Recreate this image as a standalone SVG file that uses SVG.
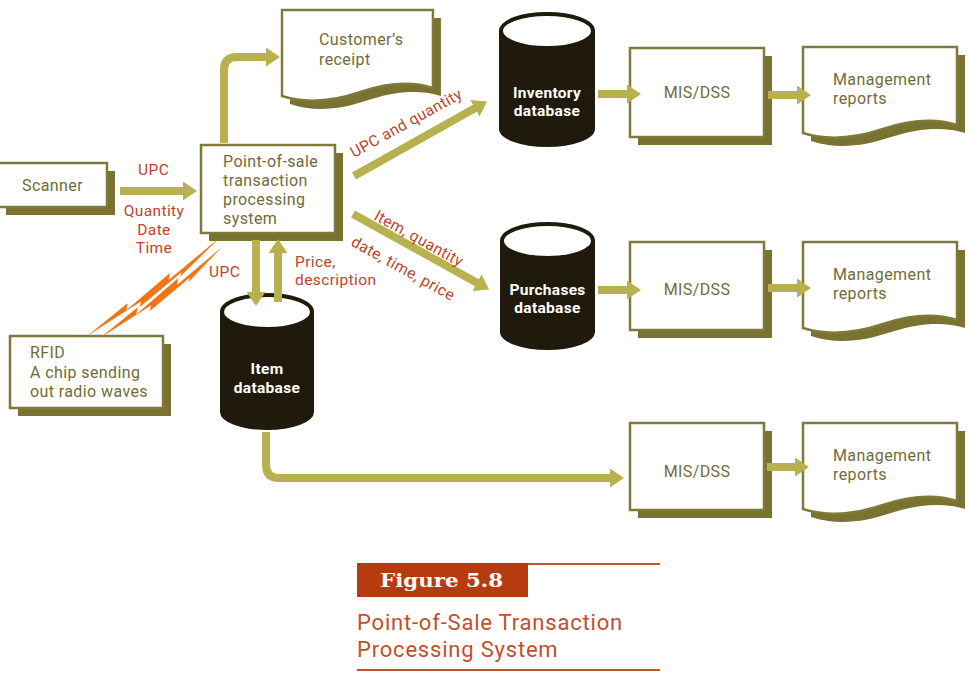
<svg xmlns="http://www.w3.org/2000/svg" width="973" height="676" viewBox="0 0 973 676">
<defs>
<style>
.box{fill:#fff;stroke:#7f7a39;stroke-width:2.5}
.shadow{fill:#7a7230}
.txt{font-family:Roboto,"Liberation Sans",sans-serif;font-size:16px;letter-spacing:0.4px;fill:#716c37}
.red{font-family:Roboto,"Liberation Sans",sans-serif;font-size:15.5px;letter-spacing:0.4px;fill:#c0432b}
.dbbody{fill:#1f1a0b}
.dbcap{fill:#fff;stroke:#1f1a0b;stroke-width:4}
.dbtxt{font-family:Roboto,"Liberation Sans",sans-serif;font-size:15.5px;letter-spacing:0.3px;font-weight:bold;fill:#fff;text-anchor:middle}
.arr{fill:none;stroke:#b7b24f;stroke-width:8;marker-end:url(#head)}
.bolt{fill:#f07515}
.cap{font-family:Roboto,"Liberation Sans",sans-serif;font-size:22px;letter-spacing:0.8px;fill:#c0502d}
</style>
<marker id="head" viewBox="0 0 14 19" markerWidth="14" markerHeight="19" refX="1" refY="9.5" orient="auto" markerUnits="userSpaceOnUse">
<path d="M0,0 L14,9.5 L0,19 Z" fill="#b7b24f"/>
</marker>
<path id="doc" d="M0,0 H154 V78 C135,72 110,72 80,82 C50,92 25,94 0,86 Z"/>
</defs>
<rect width="973" height="676" fill="#fff"/>

<g id="scanner">
<rect class="shadow" x="6" y="171" width="109" height="44"/>
<rect class="box" x="-2" y="163" width="109" height="44"/>
<text class="txt" x="22" y="191">Scanner</text>
</g>

<g id="pos">
<rect class="shadow" x="209" y="153" width="134" height="88"/>
<rect class="box" x="201" y="145" width="134" height="88"/>
<text class="txt" x="223" y="167">Point-of-sale</text>
<text class="txt" x="223" y="186">transaction</text>
<text class="txt" x="223" y="205">processing</text>
<text class="txt" x="223" y="224">system</text>
</g>

<g id="rfid">
<rect class="shadow" x="18" y="344" width="153" height="72"/>
<rect class="box" x="10" y="336" width="153" height="72"/>
<text class="txt" x="30" y="358">RFID</text>
<text class="txt" x="30" y="378">A chip sending</text>
<text class="txt" x="30" y="397">out radio waves</text>
</g>

<g id="receipt">
<use href="#doc" class="shadow" transform="translate(290,18) scale(0.98,1)"/>
<use href="#doc" class="box" transform="translate(282,10) scale(0.98,1)"/>
<text class="txt" x="319" y="45">Customer’s</text>
<text class="txt" x="319" y="65">receipt</text>
</g>

<g id="inventory-db">
<path class="dbbody" d="M499,31 V129 A48,18 0 0 0 595,129 V31 Z"/>
<ellipse class="dbcap" cx="547" cy="31" rx="46" ry="17"/>
<text class="dbtxt" x="547" y="98">Inventory</text>
<text class="dbtxt" x="547" y="116">database</text>
</g>

<g id="purchases-db">
<path class="dbbody" d="M500,241 V332 A47.5,18 0 0 0 595,332 V241 Z"/>
<ellipse class="dbcap" cx="547.5" cy="241" rx="45.5" ry="17"/>
<text class="dbtxt" x="547.5" y="295">Purchases</text>
<text class="dbtxt" x="547.5" y="313">database</text>
</g>

<g id="item-db">
<path class="dbbody" d="M220,312 V412 A47,18 0 0 0 314,412 V312 Z"/>
<ellipse class="dbcap" cx="267" cy="312" rx="45" ry="17"/>
<text class="dbtxt" x="267" y="374">Item</text>
<text class="dbtxt" x="267" y="393">database</text>
</g>

<g id="mis1">
<rect class="shadow" x="638" y="56" width="134" height="89"/>
<rect class="box" x="630" y="48" width="134" height="89"/>
<text class="txt" x="697" y="98" text-anchor="middle">MIS/DSS</text>
</g>
<g id="mis2">
<rect class="shadow" x="638" y="250" width="134" height="88"/>
<rect class="box" x="630" y="242" width="134" height="88"/>
<text class="txt" x="697" y="295" text-anchor="middle">MIS/DSS</text>
</g>
<g id="mis3">
<rect class="shadow" x="638" y="431" width="134" height="87"/>
<rect class="box" x="630" y="423" width="134" height="87"/>
<text class="txt" x="697" y="477" text-anchor="middle">MIS/DSS</text>
</g>

<g id="report1">
<use href="#doc" class="shadow" transform="translate(811,55)"/>
<use href="#doc" class="box" transform="translate(803,47)"/>
<text class="txt" x="833" y="85">Management</text>
<text class="txt" x="833" y="104">reports</text>
</g>
<g id="report2">
<use href="#doc" class="shadow" transform="translate(811,250)"/>
<use href="#doc" class="box" transform="translate(803,242)"/>
<text class="txt" x="833" y="280">Management</text>
<text class="txt" x="833" y="299">reports</text>
</g>
<g id="report3">
<use href="#doc" class="shadow" transform="translate(811,431)"/>
<use href="#doc" class="box" transform="translate(803,423)"/>
<text class="txt" x="833" y="461">Management</text>
<text class="txt" x="833" y="480">reports</text>
</g>

<g id="connectors">
<path class="arr" d="M120,191 H184"/>
<path class="arr" d="M224,143 V70 Q224,57 237,57 H267"/>
<path class="arr" d="M354,176 L475.7,107.8"/>
<path class="arr" d="M353,214 L477.8,283.2"/>
<path class="arr" d="M256,240 V293"/>
<path class="arr" d="M278,302 V252"/>
<path class="arr" d="M598,94 H628"/>
<path class="arr" d="M768,95 H798"/>
<path class="arr" d="M598,290 H628"/>
<path class="arr" d="M768,288 H798"/>
<path class="arr" d="M266,432 V465 Q266,478 279,478 H611"/>
<path class="arr" d="M767,467 H796"/>
<g transform="translate(87,336) rotate(-34.5)">
<polygon class="bolt" points="0,0 52,-4 47,1 104,-5 99,0 166,-6 110,4 114,1 60,6 64,2"/>
<polygon class="bolt" points="10,9 58,5 53,10 108,4 103,9 162,3 114,13 118,10 66,15 70,11"/>
</g>
</g>

<g id="labels">
<text class="red" x="138" y="175">UPC</text>
<text class="red" x="154" y="216" text-anchor="middle">Quantity</text>
<text class="red" x="154" y="235" text-anchor="middle">Date</text>
<text class="red" x="154" y="253" text-anchor="middle">Time</text>
<text class="red" x="209" y="277">UPC</text>
<text class="red" x="295" y="267">Price,</text>
<text class="red" x="295" y="285">description</text>
<text class="red" transform="translate(354,158) rotate(-29)">UPC and quantity</text>
<text class="red" transform="translate(373,219) rotate(29)">Item, quantity</text>
<text class="red" transform="translate(350,245) rotate(29)">date, time, price</text>
</g>

<g id="caption">
<rect x="357" y="563" width="171" height="34" fill="#b63c0f"/>
<line x1="528" y1="564" x2="660" y2="564" stroke="#c0532e" stroke-width="2"/>
<text x="380" y="587" font-family="'DejaVu Serif','Liberation Serif',serif" font-weight="bold" font-size="18" fill="#fff" textLength="123" lengthAdjust="spacingAndGlyphs">Figure 5.8</text>
<text class="cap" x="357" y="630">Point-of-Sale Transaction</text>
<text class="cap" x="357" y="657">Processing System</text>
<line x1="357" y1="670" x2="660" y2="670" stroke="#c0532e" stroke-width="2"/>
</g>
</svg>
